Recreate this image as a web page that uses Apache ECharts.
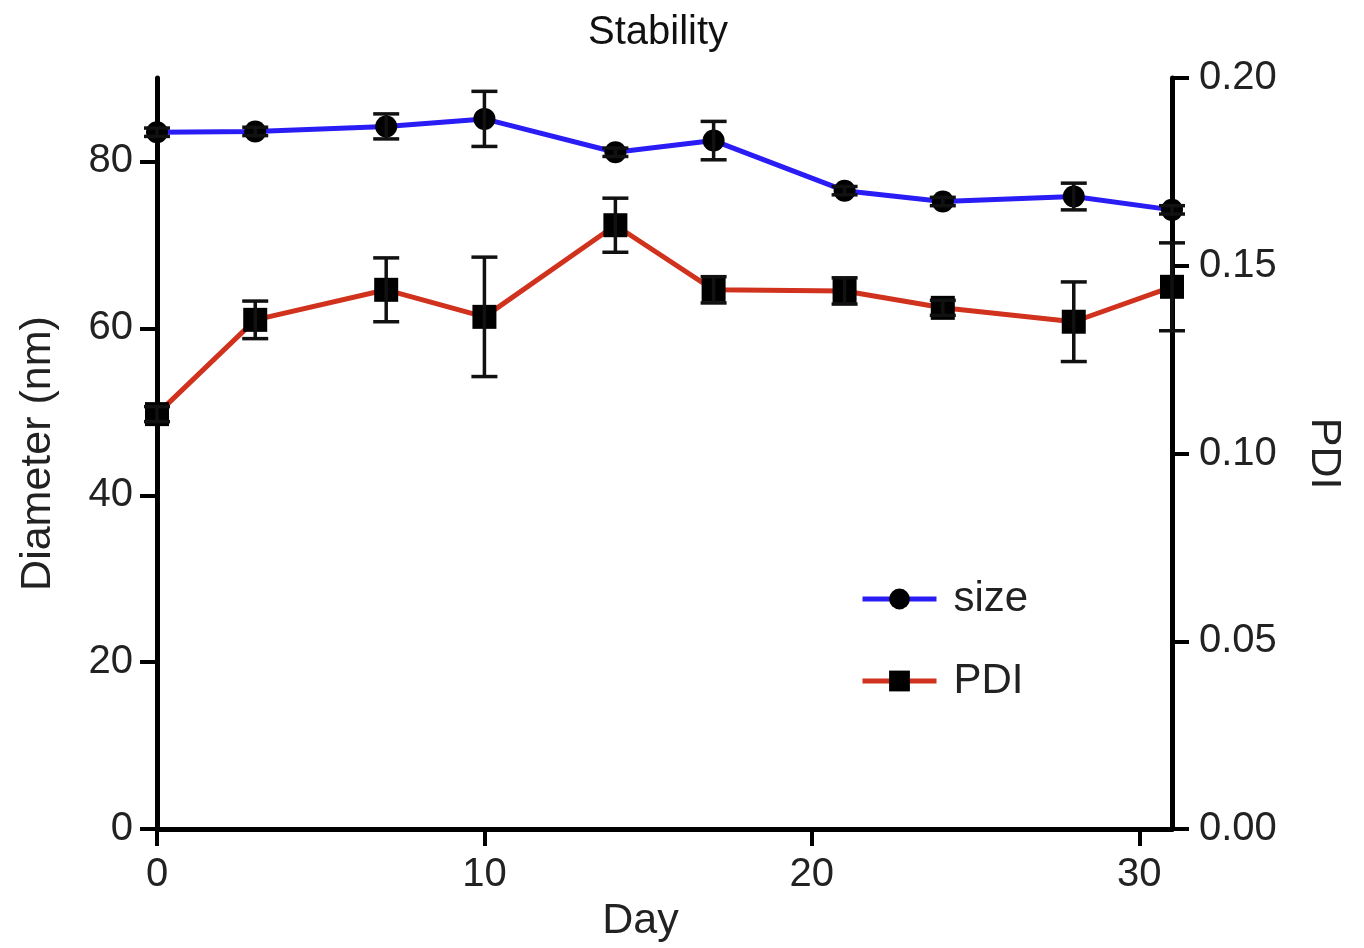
<!DOCTYPE html>
<html>
<head>
<meta charset="utf-8">
<script src="https://cdn.jsdelivr.net/npm/echarts@6/dist/echarts.min.js"></script>
<style>
html,body{margin:0;padding:0;background:#fff;}
#chart{width:1364px;height:948px;}
</style>
</head>
<body>
<div id="chart"></div>
<script>
// Data
const days = [0, 3, 7, 10, 14, 17, 21, 24, 28, 31];
const sizeMean = [83.5, 83.6, 84.2, 85.1, 81.1, 82.5, 76.5, 75.2, 75.8, 74.2];
const sizeErr  = [0.5, 0.5, 1.5, 3.3, 0.5, 2.3, 0.5, 0.5, 1.6, 0.5];
const pdiMean  = [0.1105, 0.1356, 0.1436, 0.1364, 0.1608, 0.1436, 0.1433, 0.1388, 0.1351, 0.1444];
const pdiErr   = [0.002, 0.0050, 0.0085, 0.0159, 0.0072, 0.0035, 0.0035, 0.002, 0.0106, 0.0117];
const xTicks = [0, 10, 20, 30];
const leftTicks = [0, 20, 40, 60, 80];
const rightTicks = [0, 0.05, 0.10, 0.15, 0.20];

const FONT = 'Liberation Sans';
const chart = echarts.init(document.getElementById('chart'));

function errBarRender(params, api) {
  const x = api.value(0), y = api.value(1), e = api.value(2);
  const top = api.coord([x, y + e]);
  const bot = api.coord([x, y - e]);
  const half = 13;
  const style = {stroke: '#111', lineWidth: 3.5};
  return {
    type: 'group',
    children: [
      {type: 'line', shape: {x1: top[0], y1: top[1], x2: bot[0], y2: bot[1]}, style: style},
      {type: 'line', shape: {x1: top[0]-half, y1: top[1], x2: top[0]+half, y2: top[1]}, style: style},
      {type: 'line', shape: {x1: bot[0]-half, y1: bot[1], x2: bot[0]+half, y2: bot[1]}, style: style}
    ]
  };
}

const axisLine = {show: true, lineStyle: {color: '#000', width: 5}};
const axisTick = (vals) => ({show: true, inside: false, length: 17, lineStyle: {color: '#000', width: 4}, customValues: vals});
const labelStyle = {color: '#222', fontSize: 40, fontFamily: FONT};

chart.setOption({
  backgroundColor: '#fff',
  animation: false,
  title: {
    text: 'Stability',
    left: 583, top: 8,
    textStyle: {color: '#111', fontSize: 40, fontWeight: 'normal', fontFamily: FONT}
  },
  legend: {
    orient: 'vertical',
    left: 855, top: 573,
    itemWidth: 74, itemHeight: 26, itemGap: 40,
    data: ['size', 'PDI'],
    lineStyle: {width: 5},
    textStyle: {color: '#222', fontSize: 42, fontFamily: FONT, padding: [0, 0, 0, 12]}
  },
  grid: {left: 157, right: 192, top: 78, bottom: 116},
  xAxis: {
    type: 'value', min: 0, max: 31,
    name: 'Day', nameLocation: 'middle', nameGap: 68,
    nameTextStyle: {color: '#222', fontSize: 43, fontFamily: FONT, padding: [0, 48, 0, 0]},
    axisLine: axisLine,
    axisTick: axisTick(xTicks),
    axisLabel: Object.assign({margin: 26, customValues: xTicks}, labelStyle),
    splitLine: {show: false}
  },
  yAxis: [
    {
      type: 'value', min: 0, max: 90, position: 'left',
      name: 'Diameter (nm)', nameLocation: 'middle', nameGap: 97,
      nameTextStyle: {color: '#222', fontSize: 43, fontFamily: FONT},
      axisLine: axisLine,
      axisTick: axisTick(leftTicks),
      axisLabel: Object.assign({margin: 24, customValues: leftTicks}, labelStyle),
      splitLine: {show: false}
    },
    {
      type: 'value', min: 0, max: 0.2, position: 'right',
      name: 'PDI', nameLocation: 'middle', nameGap: 130, nameRotate: -90,
      nameTextStyle: {color: '#222', fontSize: 43, fontFamily: FONT},
      axisLine: axisLine,
      axisTick: axisTick(rightTicks),
      axisLabel: Object.assign({margin: 27, customValues: rightTicks, formatter: v => v.toFixed(2)}, labelStyle),
      splitLine: {show: false}
    }
  ],
  series: [
    {
      name: 'size', type: 'line', yAxisIndex: 0,
      data: days.map((d, i) => [d, sizeMean[i]]),
      symbol: 'circle', symbolSize: 22,
      itemStyle: {color: '#000'},
      lineStyle: {color: '#2a1cf5', width: 5},
      z: 3
    },
    {
      name: 'PDI', type: 'line', yAxisIndex: 1,
      data: days.map((d, i) => [d, pdiMean[i]]),
      symbol: 'rect', symbolSize: 24,
      itemStyle: {color: '#000'},
      lineStyle: {color: '#d0321e', width: 5},
      z: 3
    },
    {
      type: 'custom', yAxisIndex: 0, renderItem: errBarRender,
      data: days.map((d, i) => [d, sizeMean[i], sizeErr[i]]),
      z: 4, silent: true
    },
    {
      type: 'custom', yAxisIndex: 1, renderItem: errBarRender,
      data: days.map((d, i) => [d, pdiMean[i], pdiErr[i]]),
      z: 4, silent: true
    }
  ]
});
</script>
</body>
</html>
